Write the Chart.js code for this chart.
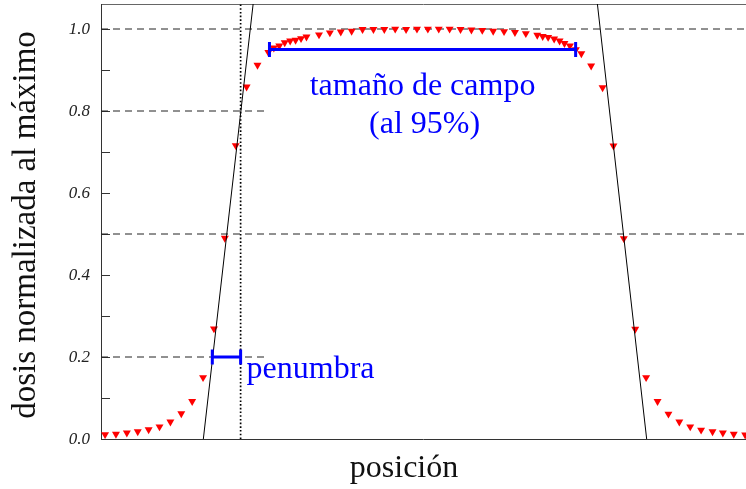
<!DOCTYPE html>
<html>
<head>
<meta charset="utf-8">
<script src="https://cdn.jsdelivr.net/npm/chart.js@4.4.1/dist/chart.umd.min.js"></script>
<style>
  html, body { margin: 0; padding: 0; background: #fff; }
  canvas { display: block; }
</style>
</head>
<body>
<canvas id="perfil" width="746" height="489"></canvas>
<script>
// perfil de dosis medido: posición en mm, dosis relativa al máximo
const posMm = [
  -58.5, -56.5, -54.5, -52.5, -50.5, -48.5, -46.5, -44.5, -42.5, -40.5, -38.5, -36.5, -34.5, -32.5, -30.5,
  -28.5, -27.5, -26.5, -25.5, -24.5, -23.5, -22.5, -21.5,
  -19.2, -17.2, -15.2, -13.2, -11.2, -9.2, -7.2, -5.2, -3.2, -1.2, 0.8, 2.8, 4.8, 6.8, 8.8, 10.8, 12.8, 14.8, 16.8, 18.8,
  20.9, 21.9, 22.9, 24.0, 25.0, 25.9, 26.9, 28.0, 29.0,
  30.8, 32.9, 34.9, 36.8, 38.9, 40.9, 43.0, 45.0, 47.0, 49.0, 51.0, 53.1, 55.0, 57.0, 59.1
];
const dose = [
  0.011, 0.012, 0.015, 0.018, 0.023, 0.030, 0.042, 0.062, 0.092, 0.150, 0.269, 0.490, 0.716, 0.859, 0.912,
  0.943, 0.954, 0.959, 0.967, 0.971, 0.973, 0.977, 0.981,
  0.986, 0.991, 0.993, 0.995, 0.999, 0.999, 0.999, 1.000, 0.999, 1.000, 1.000, 1.000, 1.000, 0.999, 0.998, 0.997, 0.995, 0.994, 0.992, 0.989,
  0.985, 0.982, 0.980, 0.976, 0.971, 0.965, 0.959, 0.950, 0.940,
  0.910, 0.857, 0.715, 0.489, 0.268, 0.150, 0.092, 0.061, 0.042, 0.030, 0.022, 0.018, 0.015, 0.012, 0.010
];

// rectas ajustadas a los bordes del campo [x, y]
const edgeLeft = [[-40.45, 0], [-31.3, 1.061]];
const edgeRight = [[31.95, 1.061], [41.0, 0]];

// niveles de referencia: [nivel, x inicial, x final]
const xRange = [-59.25, 59.25];
const refLevels = [
  [1.0, -59.25, 59.25],
  [0.8, -59.25, -28.6],
  [0.5, -59.25, 59.25],
  [0.2, -59.25, -28.6]
];
const x80 = -33.6;               // donde la recta cruza el 80 %
const fieldBar = [-28.3, 27.95, 0.95];   // tamaño de campo al 95 %
const penumbraBar = [-38.8, -33.6, 0.2]; // penumbra 20 %–80 %

const yTickMarks = [0, 0.1, 0.2, 0.3, 0.4, 0.5, 0.6, 0.7, 0.8, 0.9, 1.0];
const yLabelValues = [0, 0.2, 0.4, 0.6, 0.8, 1.0];
const yLabelText = ['0.0', '0.2', '0.4', '0.6', '0.8', '1.0'];

const SERIF = '"Liberation Serif", "Times New Roman", serif';
const BLUE = '#0000ff';

const pts = arr => arr.map(p => ({ x: p[0], y: p[1] }));

const datasets = [];
// barras azules con remates verticales
[fieldBar, penumbraBar].forEach(b => {
  datasets.push({
    data: [{ x: b[0], y: b[2] }, { x: b[1], y: b[2] }],
    showLine: true, borderColor: BLUE, borderWidth: 3,
    pointStyle: 'line', rotation: 90, pointRadius: 7.5,
    pointBorderColor: BLUE, pointBorderWidth: 3, order: 0
  });
});
// rectas de los bordes
[edgeLeft, edgeRight].forEach(e => {
  datasets.push({
    data: pts(e), showLine: true, borderColor: '#000', borderWidth: 1,
    pointRadius: 0, order: 1
  });
});
// perfil medido
datasets.push({
  data: posMm.map((x, i) => ({ x, y: dose[i] })),
  showLine: false, pointStyle: 'triangle', rotation: 180,
  pointRadius: 4.6, backgroundColor: '#ff0000', borderColor: '#ff0000',
  borderWidth: 0, pointBorderWidth: 0, order: 2
});
// líneas de referencia discontinuas
refLevels.forEach(r => {
  datasets.push({
    data: [{ x: r[1], y: r[0] }, { x: r[2], y: r[0] }],
    showLine: true, borderColor: '#222', borderWidth: 1, borderDash: [7, 5],
    pointRadius: 0, order: 3
  });
});
// vertical punteada en el 80 %
datasets.push({
  data: [{ x: x80, y: 0 }, { x: x80, y: 1.061 }],
  showLine: true, borderColor: '#000', borderWidth: 1.7, borderDash: [1.6, 2.1],
  pointRadius: 0, order: 3
});

const decor = {
  id: 'decor',
  beforeDatasetsDraw(chart) {
    const { ctx, chartArea: a, scales: { y } } = chart;
    ctx.save();
    ctx.lineWidth = 1;
    ctx.strokeStyle = '#666';
    ctx.beginPath();
    ctx.moveTo(a.left, a.top + 0.5);
    ctx.lineTo(a.right, a.top + 0.5);
    ctx.stroke();
    ctx.strokeStyle = '#333';
    ctx.beginPath();
    ctx.moveTo(a.left + 0.5, a.top);
    ctx.lineTo(a.left + 0.5, a.bottom + 1);
    ctx.moveTo(a.left, a.bottom + 0.5);
    ctx.lineTo(a.right, a.bottom + 0.5);
    yTickMarks.forEach(v => {
      const py = Math.round(y.getPixelForValue(v)) + 0.5;
      ctx.moveTo(a.left, py);
      ctx.lineTo(a.left + 9, py);
    });
    ctx.stroke();

    ctx.fillStyle = '#222';
    ctx.font = 'italic 17px ' + SERIF;
    ctx.textAlign = 'right';
    ctx.textBaseline = 'middle';
    yLabelValues.forEach((v, i) => {
      ctx.fillText(yLabelText[i], a.left - 11, y.getPixelForValue(v) + 1);
    });

    ctx.fillStyle = '#111';
    ctx.font = '32px ' + SERIF;
    ctx.textAlign = 'center';
    ctx.textBaseline = 'alphabetic';
    ctx.fillText('posición', 404, 477);
    ctx.save();
    ctx.translate(35, 225);
    ctx.rotate(-Math.PI / 2);
    ctx.font = '33px ' + SERIF;
    ctx.fillText('dosis normalizada al máximo', 0, 0);
    ctx.restore();
    ctx.restore();
  },
  afterDatasetsDraw(chart) {
    const { ctx, scales: { x, y } } = chart;
    ctx.save();
    ctx.fillStyle = BLUE;
    ctx.font = '32px ' + SERIF;
    ctx.textBaseline = 'alphabetic';
    ctx.textAlign = 'center';
    const cx = x.getPixelForValue((fieldBar[0] + fieldBar[1]) / 2);
    const by = y.getPixelForValue(fieldBar[2]);
    ctx.fillText('tamaño de campo', cx, by + 45);
    ctx.fillText('(al 95%)', cx + 2, by + 83);
    ctx.textAlign = 'left';
    ctx.fillText('penumbra', x.getPixelForValue(penumbraBar[1]) + 6, y.getPixelForValue(penumbraBar[2]) + 21);
    ctx.restore();
  }
};

new Chart(document.getElementById('perfil'), {
  type: 'scatter',
  data: { datasets },
  options: {
    responsive: false,
    animation: false,
    events: [],
    layout: { autoPadding: false, padding: { left: 101, top: 4, right: 0, bottom: 50 } },
    plugins: { legend: { display: false }, tooltip: { enabled: false } },
    scales: {
      x: { type: 'linear', display: false, min: xRange[0], max: xRange[1] },
      y: { type: 'linear', display: false, min: 0, max: 1.061 }
    }
  },
  plugins: [decor]
});
</script>
</body>
</html>
